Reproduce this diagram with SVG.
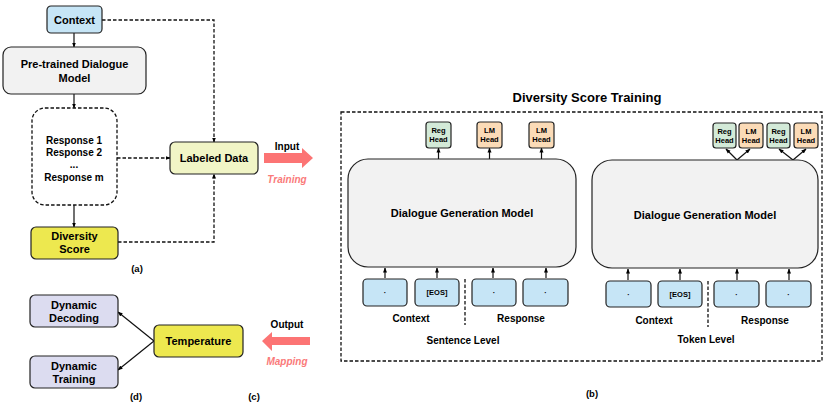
<svg xmlns="http://www.w3.org/2000/svg" width="830" height="407" viewBox="0 0 830 407">
<defs>
<marker id="ah" viewBox="0 0 10 10" refX="9" refY="5" markerWidth="5" markerHeight="5" markerUnits="userSpaceOnUse" orient="auto">
<path d="M0,1 L10,5 L0,9 z" fill="#000"/>
</marker>
</defs>
<style>
text{font-family:"Liberation Sans",Arial,sans-serif;font-weight:bold;text-anchor:middle;fill:#000}
.box{stroke:#222;stroke-width:1.2}
.blue{fill:#c6e5f6}
.grey{fill:#f2f2f2}
.yel{fill:#ede84f}
.lab{fill:#f1f5c6}
.lav{fill:#dcdcf0}
.green{fill:#d3ead8}
.peach{fill:#fbdbb7}
.dash{fill:none;stroke:#111;stroke-width:1.3;stroke-dasharray:3.5,2}
.ln{fill:none;stroke:#111;stroke-width:1.2}
.t11{font-size:11px}
.t10{font-size:10px}
.t8{font-size:7.5px}
.red{fill:#fc7474}
.rt{fill:#fa7a7a;font-style:italic;font-size:10px}
</style>

<g id="connectors">
<line class="ln" x1="74" y1="33" x2="74" y2="47" marker-end="url(#ah)"/>
<line class="ln" x1="74" y1="94" x2="74" y2="108" marker-end="url(#ah)"/>
<line class="ln" x1="74" y1="205" x2="74" y2="227" marker-end="url(#ah)"/>
<polyline class="dash" points="102,20 214,20 214,142" marker-end="url(#ah)"/>
<line class="dash" x1="117" y1="158" x2="170" y2="158" marker-end="url(#ah)"/>
<polyline class="dash" points="118,242 214,242 214,174" marker-end="url(#ah)"/>
<line class="ln" x1="154" y1="341" x2="118" y2="312" marker-end="url(#ah)"/>
<line class="ln" x1="154" y1="341" x2="118" y2="370" marker-end="url(#ah)"/>
<line class="ln" x1="438.5" y1="159" x2="438.5" y2="148" marker-end="url(#ah)"/>
<line class="ln" x1="489.5" y1="159" x2="489.5" y2="148" marker-end="url(#ah)"/>
<line class="ln" x1="541.5" y1="159" x2="541.5" y2="148" marker-end="url(#ah)"/>
<line class="ln" x1="737" y1="160" x2="726" y2="149" marker-end="url(#ah)"/>
<line class="ln" x1="737" y1="160" x2="750" y2="149" marker-end="url(#ah)"/>
<line class="ln" x1="793" y1="160" x2="779" y2="149" marker-end="url(#ah)"/>
<line class="ln" x1="793" y1="160" x2="806" y2="149" marker-end="url(#ah)"/>
<line class="ln" x1="385" y1="278" x2="385" y2="268" marker-end="url(#ah)"/>
<line class="ln" x1="437" y1="278" x2="437" y2="268" marker-end="url(#ah)"/>
<line class="ln" x1="493" y1="278" x2="493" y2="268" marker-end="url(#ah)"/>
<line class="ln" x1="546" y1="278" x2="546" y2="268" marker-end="url(#ah)"/>
<line class="ln" x1="628" y1="280" x2="628" y2="269" marker-end="url(#ah)"/>
<line class="ln" x1="680" y1="280" x2="680" y2="269" marker-end="url(#ah)"/>
<line class="ln" x1="737" y1="280" x2="737" y2="269" marker-end="url(#ah)"/>
<line class="ln" x1="789" y1="280" x2="789" y2="269" marker-end="url(#ah)"/>
<line class="dash" x1="465" y1="279" x2="465" y2="325" stroke-dasharray="5,3"/>
<line class="dash" x1="708" y1="281" x2="708" y2="327" stroke-dasharray="5,3"/>
</g>

<g id="context">
<rect class="box blue" x="47" y="6" width="55" height="27" rx="4"/>
<text class="t11" x="74.5" y="23.5">Context</text>
</g>
<g id="pretrained">
<rect class="box grey" x="3" y="47" width="143" height="47" rx="8"/>
<text class="t11" x="74.5" y="68">Pre-trained Dialogue</text>
<text class="t11" x="74.5" y="81.5">Model</text>
</g>
<g id="responses">
<rect class="dash" x="32" y="108" width="85" height="97" rx="13"/>
<text class="t10" x="74" y="143.5">Response 1</text>
<text class="t10" x="74" y="156">Response 2</text>
<text class="t10" x="74" y="168">...</text>
<text class="t10" x="74" y="180.5">Response m</text>
</g>
<g id="labeled">
<rect class="box lab" x="170" y="142" width="88" height="32" rx="5"/>
<text class="t11" x="214" y="162">Labeled Data</text>
</g>
<g id="diversity">
<rect class="box yel" x="31" y="227" width="87" height="32" rx="5"/>
<text class="t11" x="74.5" y="240">Diversity</text>
<text class="t11" x="74.5" y="253">Score</text>
</g>
<g id="input-arrow">
<path class="red" d="M264,153 L302,153 L302,148 L313,158 L302,168 L302,163 L264,163 z"/>
<text class="t10" x="287" y="150">Input</text>
<text class="rt" x="287" y="183">Training</text>
</g>
<text class="t10" x="137" y="272" style="font-size:9.5px">(a)</text>

<g id="dyn-decoding">
<rect class="box lav" x="30" y="295" width="88" height="32" rx="5"/>
<text class="t11" x="74" y="308.5">Dynamic</text>
<text class="t11" x="74" y="322">Decoding</text>
</g>
<g id="dyn-training">
<rect class="box lav" x="30" y="356" width="88" height="32" rx="5"/>
<text class="t11" x="74" y="369.5">Dynamic</text>
<text class="t11" x="74" y="383">Training</text>
</g>
<g id="temperature">
<rect class="box yel" x="154" y="325" width="89" height="32" rx="5"/>
<text class="t11" x="198.5" y="345">Temperature</text>
</g>
<g id="output-arrow">
<path class="red" d="M310,337 L272,337 L272,332 L262,341 L272,351 L272,345 L310,345 z"/>
<text class="t10" x="287" y="328">Output</text>
<text class="rt" x="287" y="365">Mapping</text>
</g>
<text class="t10" x="136" y="400" style="font-size:9.5px">(d)</text>
<text class="t10" x="254" y="400" style="font-size:9.5px">(c)</text>

<g id="b-panel">
<text x="587" y="102" style="font-size:13px">Diversity Score Training</text>
<rect class="dash" x="341" y="112" width="481" height="249"/>
</g>

<g id="sentence-model">
<rect class="box grey" x="348" y="159" width="228" height="108" rx="20"/>
<text class="t11" x="462" y="217">Dialogue Generation Model</text>
</g>
<g id="sentence-heads">
<rect class="box green" x="426" y="122" width="25" height="26" rx="3"/>
<text class="t8" x="438.5" y="133">Reg</text><text class="t8" x="438.5" y="142">Head</text>
<rect class="box peach" x="477" y="122" width="25" height="26" rx="3"/>
<text class="t8" x="489.5" y="133">LM</text><text class="t8" x="489.5" y="142">Head</text>
<rect class="box peach" x="529" y="122" width="25" height="26" rx="3"/>
<text class="t8" x="541.5" y="133">LM</text><text class="t8" x="541.5" y="142">Head</text>
</g>
<g id="sentence-tokens">
<rect class="box blue" x="363" y="279" width="44" height="27" rx="4"/>
<text class="t8" x="385" y="295">·</text>
<rect class="box blue" x="415" y="279" width="44" height="27" rx="4"/>
<text class="t8" x="437" y="295">[EOS]</text>
<rect class="box blue" x="472" y="279" width="44" height="27" rx="4"/>
<text class="t8" x="494" y="295">·</text>
<rect class="box blue" x="523" y="279" width="45" height="27" rx="4"/>
<text class="t8" x="545.5" y="295">·</text>
<text class="t10" x="411" y="322">Context</text>
<text class="t10" x="521" y="322">Response</text>
<text class="t10" x="463" y="343.5">Sentence Level</text>
</g>

<g id="token-model">
<rect class="box grey" x="592" y="160" width="226" height="108" rx="20"/>
<text class="t11" x="705" y="219">Dialogue Generation Model</text>
</g>
<g id="token-heads">
<rect class="box green" x="713" y="123" width="23" height="25" rx="3"/>
<text class="t8" x="724.5" y="134">Reg</text><text class="t8" x="724.5" y="143">Head</text>
<rect class="box peach" x="739" y="123" width="24" height="25" rx="3"/>
<text class="t8" x="751" y="134">LM</text><text class="t8" x="751" y="143">Head</text>
<rect class="box green" x="767" y="123" width="23" height="25" rx="3"/>
<text class="t8" x="778.5" y="134">Reg</text><text class="t8" x="778.5" y="143">Head</text>
<rect class="box peach" x="794" y="123" width="24" height="25" rx="3"/>
<text class="t8" x="806" y="134">LM</text><text class="t8" x="806" y="143">Head</text>
</g>
<g id="token-tokens">
<rect class="box blue" x="606" y="281" width="45" height="26" rx="4"/>
<text class="t8" x="628.5" y="296.5">·</text>
<rect class="box blue" x="658" y="281" width="44" height="26" rx="4"/>
<text class="t8" x="680" y="296.5">[EOS]</text>
<rect class="box blue" x="714" y="281" width="45" height="26" rx="4"/>
<text class="t8" x="736.5" y="296.5">·</text>
<rect class="box blue" x="766" y="281" width="45" height="26" rx="4"/>
<text class="t8" x="788.5" y="296.5">·</text>
<text class="t10" x="654" y="324">Context</text>
<text class="t10" x="765" y="324">Response</text>
<text class="t10" x="706" y="342.5">Token Level</text>
</g>
<text class="t10" x="592" y="397" style="font-size:9.5px">(b)</text>
</svg>
